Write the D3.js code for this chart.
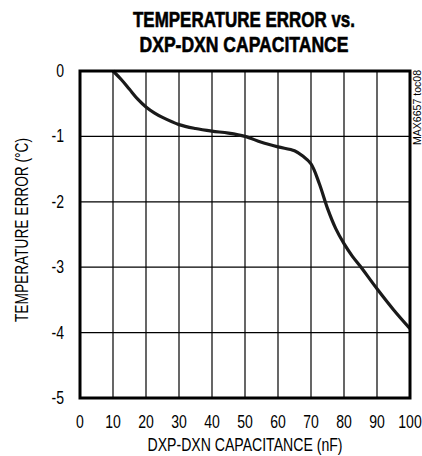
<!DOCTYPE html>
<html><head><meta charset="utf-8">
<script src="https://cdn.jsdelivr.net/npm/d3@7"></script>
<style>body{margin:0;background:#fff}svg{display:block}</style>
</head><body>
<svg id="c" width="422" height="456"></svg>
<script>
const titleLines = ["TEMPERATURE ERROR vs.", "DXP-DXN CAPACITANCE"];
const xLabel = "DXP-DXN CAPACITANCE (nF)";
const yLabel = "TEMPERATURE ERROR (°C)";
const sideNote = "MAX6657 toc08";
const xTicks = [0,10,20,30,40,50,60,70,80,90,100];
const yTicks = [0,-1,-2,-3,-4,-5];
const capNF = [10, 12.5, 15, 17.5, 20, 22.5, 25, 30, 35, 40, 45, 50, 55, 60, 65, 67.5, 70, 72.5, 75, 77.5, 80, 82.5, 85, 90, 95, 100];
const errC  = [0, -0.13, -0.28, -0.43, -0.55, -0.64, -0.71, -0.82, -0.88, -0.92, -0.95, -1.0, -1.09, -1.16, -1.22, -1.3, -1.42, -1.72, -2.1, -2.41, -2.64, -2.83, -2.99, -3.33, -3.65, -3.94];

const svg = d3.select("#c");
const L=80,R=410,T=71,B=398;
const x = d3.scaleLinear().domain([0,100]).range([L,R]);
const y = d3.scaleLinear().domain([0,-5]).range([T,B]);
const fam = "'Liberation Sans','Arial',sans-serif";
const SX = 0.78;

// grid
svg.append("g").selectAll("line").data(xTicks.slice(1,-1)).join("line")
  .attr("x1",d=>x(d)).attr("x2",d=>x(d)).attr("y1",T).attr("y2",B)
  .attr("stroke","#000").attr("stroke-width",1.2);
svg.append("g").selectAll("line").data(yTicks.slice(1,-1)).join("line")
  .attr("y1",d=>y(d)).attr("y2",d=>y(d)).attr("x1",L).attr("x2",R)
  .attr("stroke","#000").attr("stroke-width",1.2);

// curve
const line = d3.line().x((d,i)=>x(capNF[i])).y(d=>y(d)).curve(d3.curveCatmullRom.alpha(0.5));
svg.append("path").attr("d",line(errC)).attr("fill","none")
  .attr("stroke","#1a1a1a").attr("stroke-width",3.2).attr("stroke-linejoin","round");

// frame
svg.append("rect").attr("x",L).attr("y",T).attr("width",R-L).attr("height",B-T)
  .attr("fill","none").attr("stroke","#000").attr("stroke-width",3);

// tick labels (condensed by horizontal scale)
svg.append("g").selectAll("text").data(xTicks).join("text")
  .attr("transform",d=>`translate(${x(d)},428) scale(${SX},1)`).attr("text-anchor","middle")
  .attr("font-family",fam).attr("font-size",18).text(d=>d);
svg.append("g").selectAll("text").data(yTicks).join("text")
  .attr("transform",d=>`translate(64,${y(d)+6}) scale(${SX},1)`).attr("text-anchor","end")
  .attr("font-family",fam).attr("font-size",18).text(d=>d===0?"0":"-"+Math.abs(d));

// axis labels
svg.append("text").attr("x",245).attr("y",451).attr("text-anchor","middle")
  .attr("font-family",fam).attr("font-size",18)
  .attr("textLength",195).attr("lengthAdjust","spacingAndGlyphs").text(xLabel);
svg.append("text").attr("transform","translate(28,230) rotate(-90)")
  .attr("text-anchor","middle").attr("font-family",fam).attr("font-size",18)
  .attr("textLength",184).attr("lengthAdjust","spacingAndGlyphs").text(yLabel);

// title
const tl = [222, 209];
svg.append("g").selectAll("text").data(titleLines).join("text")
  .attr("x",244).attr("y",(d,i)=>27+i*25).attr("text-anchor","middle")
  .attr("font-family",fam).attr("font-weight","bold").attr("font-size",22)
  .attr("stroke","#000").attr("stroke-width",0.6)
  .attr("textLength",(d,i)=>tl[i]).attr("lengthAdjust","spacingAndGlyphs").text(d=>d);

// side note
svg.append("text").attr("transform","translate(421,145) rotate(-90)")
  .attr("font-family",fam).attr("font-size",11.5)
  .attr("textLength",75).attr("lengthAdjust","spacingAndGlyphs").text(sideNote);
</script>
</body></html>
